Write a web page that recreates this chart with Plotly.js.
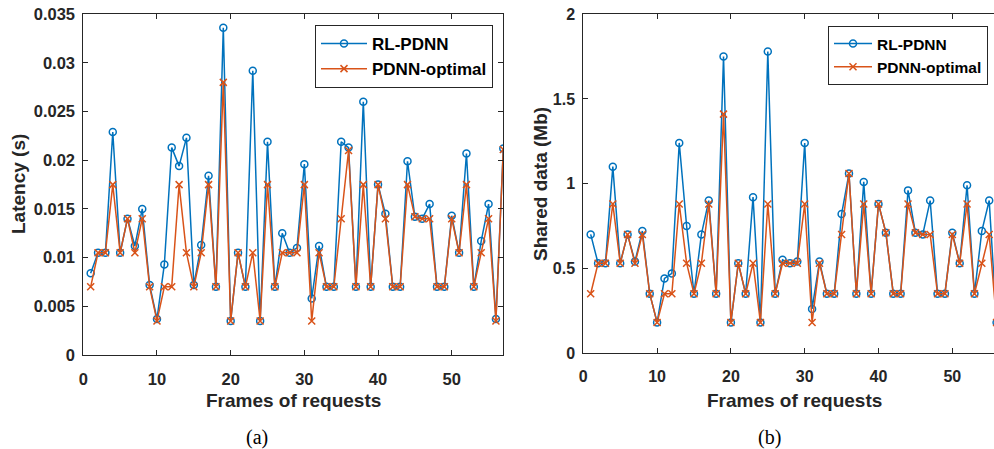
<!DOCTYPE html>
<html>
<head>
<meta charset="utf-8">
<script src="https://cdn.plot.ly/plotly-3.0.1.min.js"></script>
<style>html,body{margin:0;padding:0;background:#fff;}#chart{width:994px;height:449px;}</style>
</head>
<body>
<div id="chart"></div>
<script>
// ---- data ----
const frames = [1,2,3,4,5,6,7,8,9,10,11,12,13,14,15,16,17,18,19,20,21,22,23,24,25,26,27,28,29,30,31,32,33,34,35,36,37,38,39,40,41,42,43,44,45,46,47,48,49,50,51,52,53,54,55,56,57];

const latencyRL = [0.0084,0.0105,0.0105,0.0229,0.0105,0.0140,0.0112,0.0150,0.0072,0.0037,
  0.0093,0.0213,0.0194,0.0223,0.0072,0.0113,0.0184,0.0070,0.0336,0.0035,
  0.0105,0.0070,0.0292,0.0035,0.0219,0.0070,0.0125,0.0105,0.0110,0.0196,
  0.0058,0.0112,0.0070,0.0070,0.0219,0.0213,0.0070,0.0260,0.0070,0.0175,
  0.0145,0.0070,0.0070,0.0199,0.0142,0.0140,0.0155,0.0070,0.0070,0.0143,
  0.0105,0.0207,0.0070,0.0117,0.0155,0.0037,0.0212];

const latencyOpt = [0.0070,0.0105,0.0105,0.0175,0.0105,0.0140,0.0105,0.0140,0.0070,0.0035,
  0.0070,0.0070,0.0175,0.0105,0.0070,0.0105,0.0175,0.0070,0.0280,0.0035,
  0.0105,0.0070,0.0105,0.0035,0.0175,0.0070,0.0105,0.0105,0.0105,0.0175,
  0.0035,0.0105,0.0070,0.0070,0.0140,0.0210,0.0070,0.0175,0.0070,0.0175,
  0.0140,0.0070,0.0070,0.0175,0.0142,0.0140,0.0140,0.0070,0.0070,0.0140,
  0.0105,0.0175,0.0070,0.0105,0.0140,0.0035,0.0211];

const sharedRL = [0.70,0.53,0.53,1.10,0.53,0.70,0.54,0.72,0.35,0.18,
  0.44,0.47,1.24,0.75,0.35,0.70,0.90,0.35,1.75,0.18,
  0.53,0.35,0.92,0.18,1.78,0.35,0.55,0.53,0.54,1.24,
  0.26,0.54,0.35,0.35,0.82,1.06,0.35,1.01,0.35,0.88,
  0.71,0.35,0.35,0.96,0.71,0.70,0.90,0.35,0.35,0.71,
  0.53,0.99,0.35,0.72,0.90,0.18];

const sharedOpt = [0.35,0.53,0.53,0.88,0.53,0.70,0.53,0.70,0.35,0.18,
  0.35,0.35,0.88,0.53,0.35,0.53,0.88,0.35,1.41,0.18,
  0.53,0.35,0.53,0.18,0.88,0.35,0.53,0.53,0.53,0.88,
  0.18,0.53,0.35,0.35,0.70,1.06,0.35,0.88,0.35,0.88,
  0.71,0.35,0.35,0.88,0.71,0.70,0.70,0.35,0.35,0.70,
  0.53,0.88,0.35,0.53,0.70,0.18];

const seriesNames = ['RL-PDNN','PDNN-optimal'];
const latencyTicks = [0,0.005,0.01,0.015,0.02,0.025,0.03,0.035];
const sharedTicks = [0,0.5,1,1.5,2];
const frameTicks = [0,10,20,30,40,50];

// ---- styling ----
const W = 994, H = 449;
const BLUE = '#0072BD', ORANGE = '#D95319', AX = '#262626';
const sans = 'Liberation Sans, Arial, Helvetica, sans-serif';
const px = v => v / W;
const py = v => 1 - v / H;

function rl(x, y, xa, ya, lg) {
  return {x: x, y: y, xaxis: xa, yaxis: ya, legend: lg, name: seriesNames[0], mode: 'lines+markers',
    line: {color: BLUE, width: 1.5},
    marker: {symbol: 'circle-open', size: 7, color: BLUE, line: {width: 1.5, color: BLUE}}};
}
function opt(x, y, xa, ya, lg) {
  return {x: x, y: y, xaxis: xa, yaxis: ya, legend: lg, name: seriesNames[1], mode: 'lines+markers',
    line: {color: ORANGE, width: 1.5},
    marker: {symbol: 'x-thin-open', size: 7, color: ORANGE, line: {width: 1.5, color: ORANGE}}};
}

const traces = [
  rl(frames, latencyRL, 'x', 'y', 'legend'),
  opt(frames, latencyOpt, 'x', 'y', 'legend'),
  rl(frames.slice(0, sharedRL.length), sharedRL, 'x2', 'y2', 'legend2'),
  opt(frames.slice(0, sharedOpt.length), sharedOpt, 'x2', 'y2', 'legend2')
];

const tickFont = {family: sans, size: 16.5, color: AX, weight: 'bold'};
const tickFont2 = {family: sans, size: 16, color: AX, weight: 'bold'};
const baseAxis = {
  showgrid: false, zeroline: false, showline: true, linecolor: AX, linewidth: 1,
  ticks: 'inside', ticklen: 5, tickwidth: 1, tickcolor: AX,
  tickmode: 'array', fixedrange: true
};
const xAxisBase = Object.assign({}, baseAxis, {ticklabelstandoff: 9});
const yAxisBase = Object.assign({}, baseAxis, {ticklabelstandoff: 4});
const legendBase = {
  bgcolor: '#ffffff', bordercolor: AX, borderwidth: 1,
  xanchor: 'right', yanchor: 'top', tracegroupgap: 0
};

const titleFont = {family: sans, size: 19, color: AX, weight: 'bold'};
const capFont = {family: 'Liberation Serif, Times New Roman, serif', size: 20, color: '#000'};

function note(text, x, y, font, angle) {
  return {text: text, x: px(x), y: py(y), xref: 'paper', yref: 'paper', showarrow: false,
    xanchor: 'center', yanchor: 'middle', textangle: angle || 0, font: font};
}

const layout = {
  width: W, height: H, paper_bgcolor: '#fff', plot_bgcolor: '#fff',
  margin: {l: 0, r: 0, t: 0, b: 0},
  showlegend: true,
  xaxis: Object.assign({}, xAxisBase, {domain: [px(83.3), px(503.3)], range: [0, 57], tickvals: frameTicks, tickfont: tickFont, mirror: 'ticks', anchor: 'y'}),
  yaxis: Object.assign({}, yAxisBase, {domain: [py(355), py(14.2)], range: [0, 0.035], tickvals: latencyTicks, tickfont: tickFont, mirror: 'ticks', anchor: 'x'}),
  xaxis2: Object.assign({}, xAxisBase, {domain: [px(583.3), 1], range: [0, 55.65], tickvals: frameTicks, tickfont: tickFont2, mirror: 'ticks', anchor: 'y2'}),
  yaxis2: Object.assign({}, yAxisBase, {domain: [py(353), py(14.2)], range: [0, 2], tickvals: sharedTicks, tickfont: tickFont2, mirror: false, anchor: 'x2'}),
  legend: Object.assign({}, legendBase, {x: px(493), y: py(25), itemwidth: 46,
    font: {family: sans, size: 17, color: '#000', weight: 'bold'}}),
  legend2: Object.assign({}, legendBase, {x: px(988), y: py(26), itemwidth: 38,
    font: {family: sans, size: 15.5, color: '#000', weight: 'bold'}}),
  annotations: [
    note('Latency (s)', 18, 184, titleFont, -90),
    note('Shared data (Mb)', 540, 184, titleFont, -90),
    note('Frames of requests', 293, 400, titleFont),
    note('Frames of requests', 794, 400, titleFont),
    note('(a)', 257, 437, capFont),
    note('(b)', 769, 437, capFont)
  ]
};

Plotly.newPlot('chart', traces, layout, {displayModeBar: false, staticPlot: true});
</script>
</body>
</html>
